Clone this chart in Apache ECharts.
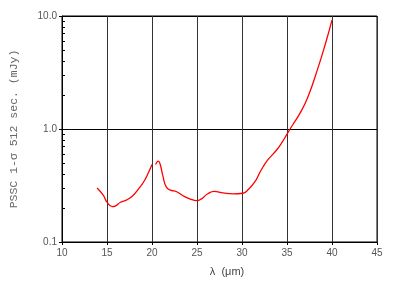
<!DOCTYPE html>
<html>
<head>
<meta charset="utf-8">
<script src="https://cdn.jsdelivr.net/npm/echarts@6/dist/echarts.min.js"></script>
<style>
  html, body { margin: 0; padding: 0; background: #fff; }
  #chart { width: 399px; height: 286px; }
</style>
</head>
<body>
<div id="chart"></div>
<script>
// wavelength (um) and 1-sigma sensitivity (mJy), split where the curve breaks near 20 um
const lambda1 = [13.9, 14.6, 15.0, 15.6, 15.9, 16.5, 17.2, 17.9, 18.5, 19.05, 19.6, 20.0];
const flux1   = [0.30, 0.258, 0.225, 0.206, 0.208, 0.225, 0.236, 0.258, 0.295, 0.338, 0.41, 0.484];
const lambda2 = [20.4, 20.7, 20.9, 21.2, 21.6, 22.15, 22.7, 23.4, 24.2, 25.0, 25.5, 26.2, 26.9, 27.9, 29.0, 30.1, 30.6, 31.4, 32.1, 32.8, 33.8, 34.5, 35.0, 35.6, 36.4, 37.3, 38.4, 39.3, 40.0];
const flux2   = [0.484, 0.519, 0.49, 0.387, 0.306, 0.286, 0.28, 0.258, 0.241, 0.232, 0.241, 0.267, 0.28, 0.272, 0.267, 0.27, 0.286, 0.338, 0.429, 0.525, 0.645, 0.773, 0.90, 1.08, 1.36, 1.9, 3.39, 5.8, 9.2];
const yMinorTicks = [0.2, 0.3, 0.4, 0.5, 0.6, 0.7, 0.8, 0.9, 2, 3, 4, 5, 6, 7, 8, 9];

const pairs = (xs, ys) => xs.map((x, i) => [x, ys[i]]);

const chart = echarts.init(document.getElementById('chart'));
chart.setOption({
  animation: false,
  grid: {
    left: 62, right: 22, top: 16, bottom: 44,
    show: true, borderColor: '#000', borderWidth: 1
  },
  xAxis: {
    type: 'value', min: 10, max: 45, interval: 5,
    name: 'λ  (μm)', nameLocation: 'middle', nameGap: 24,
    nameTextStyle: { color: '#444', fontFamily: 'Liberation Sans', fontSize: 11, padding: [0, 0, 0, 15] },
    axisLine: { lineStyle: { color: '#000' } },
    axisTick: { show: true, length: 3, lineStyle: { color: '#000' } },
    axisLabel: { color: '#555', fontFamily: 'Liberation Sans', fontSize: 10, margin: 6 },
    splitLine: { show: true, lineStyle: { color: '#333', width: 1 } }
  },
  yAxis: [{
    type: 'log', logBase: 10, min: 0.1, max: 10, splitNumber: 2,
    name: 'PSSC 1-σ 512 sec. (mJy)', nameLocation: 'middle', nameGap: 42,
    nameTextStyle: { color: '#666', fontFamily: 'Liberation Mono', fontSize: 11.5 },
    axisLine: { lineStyle: { color: '#000' } },
    axisTick: { show: true, length: 3, lineStyle: { color: '#000' } },
    axisLabel: { color: '#555', fontFamily: 'Liberation Sans', fontSize: 10, margin: 5,
      formatter: v => Number(v).toFixed(1) },
    splitLine: { show: true, lineStyle: { color: '#000', width: 1 } }
  }, {
    // second log axis on the same side, only for the minor ticks
    type: 'log', min: 0.1, max: 10, position: 'left', offset: 0,
    axisLine: { show: false },
    axisLabel: { show: false },
    splitLine: { show: false },
    axisTick: { show: true, inside: true, length: 3, customValues: yMinorTicks,
      lineStyle: { color: '#000', width: 1 } }
  }],
  series: [{
    type: 'line', data: pairs(lambda1, flux1), smooth: true, showSymbol: false,
    lineStyle: { color: '#ff0000', width: 1.3 }
  }, {
    type: 'line', data: pairs(lambda2, flux2), smooth: true, showSymbol: false,
    lineStyle: { color: '#ff0000', width: 1.3 }
  }]
});
</script>
</body>
</html>
